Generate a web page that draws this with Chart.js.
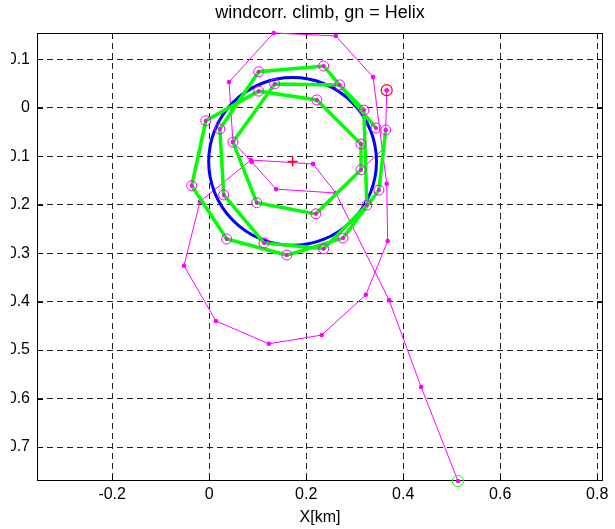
<!DOCTYPE html>
<html>
<head>
<meta charset="utf-8">
<script src="https://cdn.jsdelivr.net/npm/chart.js@4.4.1/dist/chart.umd.min.js"></script>
<style>
  html, body { margin: 0; padding: 0; background: #fff; }
  #wrap { position: relative; width: 615px; height: 529px; }
</style>
</head>
<body>
<div id="wrap"><canvas id="chart" width="615" height="529"></canvas></div>
<script>
// Raw GPS track of the climb [km], first point = entry, last point = exit
const trackX = [0.513, 0.437, 0.371, 0.261, 0.214, 0.086, -0.019, -0.052, 0.014, 0.123,
                0.232, 0.323, 0.368, 0.366, 0.357, 0.338, 0.261, 0.133, 0.041, 0.049,
                0.088, 0.138, 0.261, 0.357, 0.364, 0.366]
const trackY = [-0.770, -0.576, -0.397, -0.176, -0.116, -0.108, -0.194, -0.326, -0.440, -0.487,
                -0.469, -0.386, -0.275, -0.157, -0.087, 0.063, 0.148, 0.154, 0.053, -0.071,
                -0.112, -0.168, -0.176, -0.087, -0.046, 0.036]
// interpolated track vertices, no dot drawn
const trackNoDot = [14, 23]

// Wind corrected positions in flight order
const corrX = [0.344, 0.236, 0.102, 0.022, 0.030, 0.113, 0.236, 0.325, 0.319, 0.269,
               0.135, 0.049, 0.098, 0.220, 0.313, 0.313, 0.222, 0.102, -0.007, -0.036,
               0.036, 0.160, 0.276, 0.350, 0.364]
const corrY = [-0.042, 0.086, 0.074, -0.044, -0.180, -0.279, -0.291, -0.201, -0.005, 0.047,
               0.049, -0.071, -0.196, -0.219, -0.128, -0.075, 0.016, 0.034, -0.027, -0.161,
               -0.271, -0.304, -0.269, -0.170, -0.046]

// Circle fitted to the corrected positions
const fitCenter = [0.172, -0.111]
const fitRadius = 0.173

const xTicks = [-0.2, 0, 0.2, 0.4, 0.6, 0.8]
const yTicks = [0.1, 0, -0.1, -0.2, -0.3, -0.4, -0.5, -0.6, -0.7]
const xRange = [-0.355, 0.812]
const yRange = [-0.770, 0.154]

const FONT = "'Liberation Sans', Arial, sans-serif"
const MAGENTA = '#ff00ff'

const pts = (xs, ys) => xs.map((x, i) => ({ x: x, y: ys[i] }))
const last = trackX.length - 1

// fitted circle goes in just below the green polygon
const fitCirclePlugin = {
  id: 'fitCircle',
  beforeDatasetDraw(chart, args) {
    if (args.index !== 5) return
    const xs = chart.scales.x, ys = chart.scales.y
    const cx = xs.getPixelForValue(fitCenter[0])
    const cy = ys.getPixelForValue(fitCenter[1])
    const rx = xs.getPixelForValue(fitCenter[0] + fitRadius) - cx
    const ry = cy - ys.getPixelForValue(fitCenter[1] + fitRadius)
    const ctx = chart.ctx
    ctx.save()
    ctx.strokeStyle = '#0000ff'
    ctx.lineWidth = 3
    ctx.beginPath()
    ctx.ellipse(cx, cy, rx, ry, 0, 0, Math.PI * 2)
    ctx.stroke()
    ctx.restore()
  }
}

// axes box with inward ticks on all four sides
const framePlugin = {
  id: 'frame',
  beforeDatasetsDraw(chart) {
    const { ctx, chartArea: a, scales } = chart
    ctx.save()
    ctx.strokeStyle = '#000'
    ctx.lineWidth = 1
    ctx.setLineDash([])
    ctx.strokeRect(a.left + 0.5, a.top + 0.5, a.right - a.left - 1, a.bottom - a.top - 1)
    ctx.beginPath()
    xTicks.forEach(v => {
      const px = Math.round(scales.x.getPixelForValue(v)) + 0.5
      ctx.moveTo(px, a.bottom); ctx.lineTo(px, a.bottom - 6)
      ctx.moveTo(px, a.top); ctx.lineTo(px, a.top + 6)
    })
    yTicks.forEach(v => {
      const py = Math.round(scales.y.getPixelForValue(v)) + 0.5
      ctx.moveTo(a.left, py); ctx.lineTo(a.left + 6, py)
      ctx.moveTo(a.right, py); ctx.lineTo(a.right - 6, py)
    })
    ctx.stroke()
    ctx.restore()
  },
  afterDraw(chart) {
    const { ctx, chartArea: a } = chart
    ctx.save()
    // figure edge cuts into the y tick labels
    ctx.fillStyle = '#fff'
    ctx.fillRect(0, 0, 11, chart.height)
    ctx.fillStyle = '#000'
    ctx.textAlign = 'center'
    ctx.textBaseline = 'middle'
    const mid = (a.left + a.right) / 2
    ctx.font = '18px ' + FONT
    ctx.fillText('windcorr. climb, gn = Helix', mid, 13)
    ctx.font = '16px ' + FONT
    ctx.fillText('X[km]', mid, 518)
    ctx.restore()
  }
}

const axis = (ticks, range, extra) => Object.assign({
  type: 'linear',
  min: range[0],
  max: range[1],
  afterBuildTicks: s => { s.ticks = ticks.map(v => ({ value: v })) },
  grid: { color: '#222', lineWidth: 1, drawTicks: false },
  border: { display: false, dash: [6, 4] },
  ticks: {
    color: '#000',
    font: { family: FONT, size: 16 },
    autoSkip: false,
    maxRotation: 0,
    callback: v => String(v)
  }
}, extra)

new Chart(document.getElementById('chart'), {
  type: 'scatter',
  data: {
    datasets: [
      { // start marker
        data: [{ x: trackX[0], y: trackY[0] }],
        pointStyle: 'circle', pointRadius: 5.5, borderWidth: 1,
        borderColor: '#00ff00', backgroundColor: 'rgba(0,0,0,0)', order: 0, clip: false
      },
      { // end marker
        data: [{ x: trackX[last], y: trackY[last] }],
        pointStyle: 'circle', pointRadius: 5.5, borderWidth: 1.2,
        borderColor: '#ff0000', backgroundColor: 'rgba(0,0,0,0)', order: 0, clip: false
      },
      { // fit centre
        data: [{ x: fitCenter[0], y: fitCenter[1] }],
        pointStyle: 'cross', pointRadius: 5, borderWidth: 1.5,
        borderColor: '#ff0000', order: 1, clip: false
      },
      { // corrected points: dots
        data: pts(corrX, corrY),
        pointRadius: 2, borderWidth: 0, backgroundColor: MAGENTA, order: 2, clip: false
      },
      { // corrected points: circles
        data: pts(corrX, corrY),
        pointRadius: 5, borderWidth: 1, borderColor: MAGENTA,
        backgroundColor: 'rgba(0,0,0,0)', order: 2, clip: false
      },
      { // corrected polygon
        data: pts(corrX, corrY),
        showLine: true, borderColor: '#00ff00', borderWidth: 3.5, pointRadius: 0,
        borderJoinStyle: 'miter', order: 3, clip: false
      },
      { // raw track
        data: pts(trackX, trackY),
        showLine: true, borderColor: MAGENTA, borderWidth: 1,
        pointRadius: c => trackNoDot.includes(c.dataIndex) ? 0 : 2.3,
        pointBorderWidth: 0, pointBackgroundColor: MAGENTA,
        order: 5, clip: false
      }
    ]
  },
  options: {
    responsive: false,
    animation: false,
    layout: { padding: { top: 33, right: 12, left: 0, bottom: 0 } },
    plugins: { legend: { display: false }, tooltip: { enabled: false }, title: { display: false } },
    scales: {
      x: axis(xTicks, xRange, {
        position: 'bottom',
        afterFit: s => { s.height = 48 },
        ticks: Object.assign({}, axis([], [0, 0]).ticks, { padding: 4 })
      }),
      y: axis(yTicks, yRange, {
        position: 'left',
        afterFit: s => { s.width = 37 },
        ticks: Object.assign({}, axis([], [0, 0]).ticks, { padding: 7 })
      })
    }
  },
  plugins: [fitCirclePlugin, framePlugin]
})
</script>
</body>
</html>
